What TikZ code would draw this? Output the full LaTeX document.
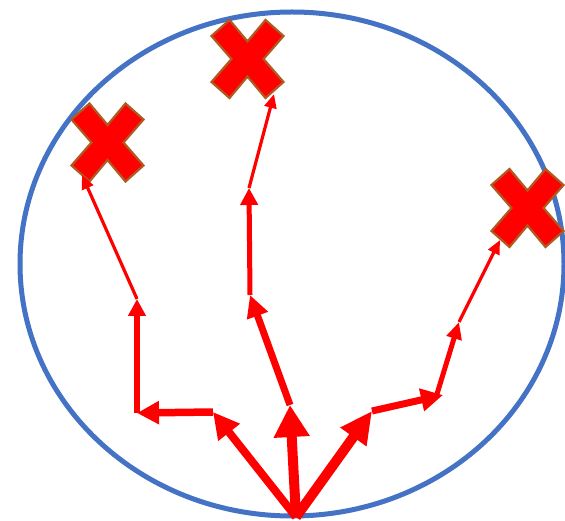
\documentclass[tikz,border=0pt]{standalone}
\usetikzlibrary{arrows.meta}
\definecolor{xred}{RGB}{255,0,0}
\definecolor{eblue}{RGB}{68,114,196}
\definecolor{xbrown}{RGB}{174,90,33}
\newcommand\crossmark[2]{%
  \fill[xred, draw=xbrown, line width=2.2pt, line join=miter, shift={(#1,#2)}]
    (-36,-23) -- (-18,-39) -- (0,-17.5) -- (18,-39) -- (36,-23) -- (16,0) --
    (36,23) -- (18,39) -- (0,17.5) -- (-18,39) -- (-36,23) -- (-16,0) -- cycle;}
\begin{document}
\begin{tikzpicture}[x=1pt,y=-1pt,
  arr/.style n args={3}{draw=xred, line width=#1, -{Triangle[width=#2,length=#3]}}]
\useasboundingbox (0,0) rectangle (565,521);
% boundary ellipse
\draw[eblue, line width=5pt] (292,264) ellipse [x radius=272, y radius=252];
% crosses
\crossmark{107.5}{142.5}
\crossmark{247.5}{59}
\crossmark{527.5}{208}
% branch points
\coordinate (root) at (296,517);
\coordinate (a1) at (213,412);
\coordinate (b1) at (290,405);
\coordinate (c1) at (372,411);
\coordinate (a2) at (137,413);
\coordinate (b2) at (250,295);
\coordinate (c2) at (443,395);
\coordinate (c2s) at (437,394);
\coordinate (a3) at (137,299);
\coordinate (b3) at (249,188);
\coordinate (c3) at (459,322);
\coordinate (a4) at (82,175);
\coordinate (b4) at (274,94);
\coordinate (c4) at (500,240);
% level 1
\draw[arr={8pt}{26pt}{26pt}] (root) -- (a1);
\draw[arr={10pt}{34pt}{32pt}] (root) -- (b1);
\draw[arr={10pt}{30pt}{32pt}] (root) -- (c1);
% level 2
\draw[arr={7.5pt}{22pt}{22pt}] (a1) -- (a2);
\draw[arr={7pt}{21pt}{22pt}] (b1) -- (b2);
\draw[arr={7pt}{22pt}{22pt}] (c1) -- (c2);
% level 3
\draw[arr={5.5pt}{17pt}{17pt}] (a2) -- (a3);
\draw[arr={5pt}{17pt}{17pt}] (b2) -- (b3);
\draw[arr={5pt}{15pt}{17pt}] (c2s) -- (c3);
% level 4
\draw[arr={3.2pt}{12pt}{14pt}] (a3) -- (a4);
\draw[arr={3.2pt}{12pt}{14pt}] (b3) -- (b4);
\draw[arr={3.2pt}{12pt}{14pt}] (c3) -- (c4);
\end{tikzpicture}
\end{document}
